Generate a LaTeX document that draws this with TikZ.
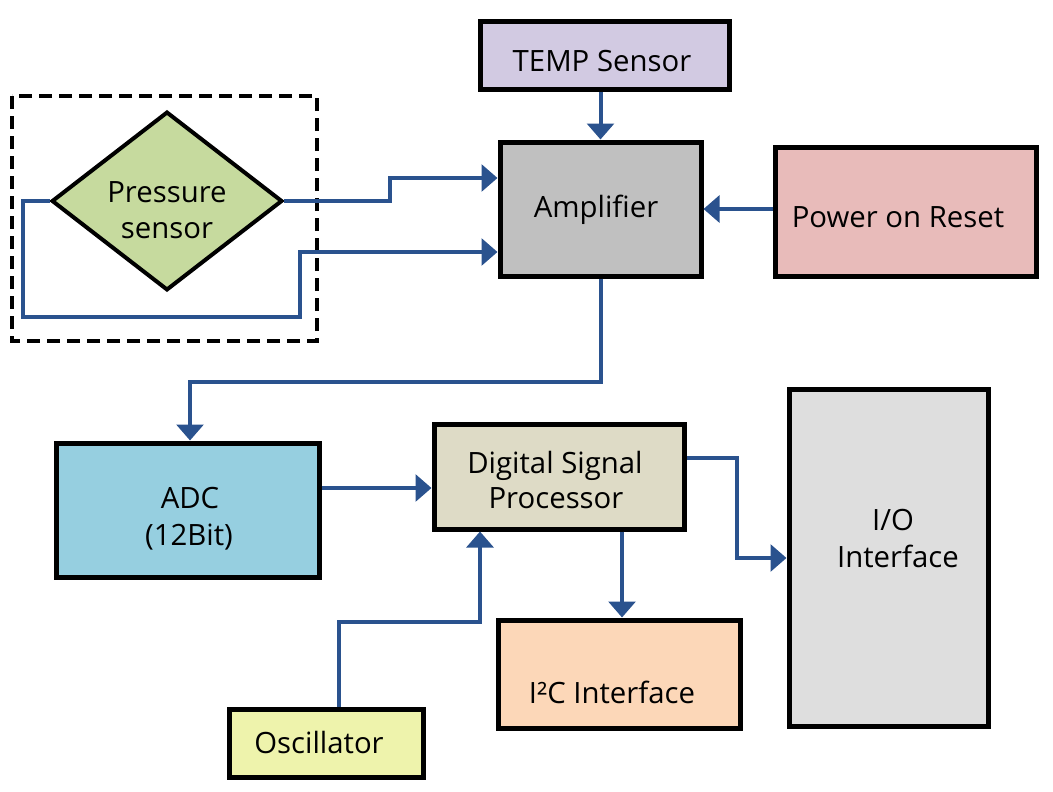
\documentclass[tikz,border=0pt]{standalone}
\usepackage{fontspec}
\setmainfont{Open Sans}
\usetikzlibrary{arrows.meta,fit,shapes.geometric}
\definecolor{cTemp}{HTML}{D2CAE2}
\definecolor{cAmp}{HTML}{C0C0C0}
\definecolor{cPor}{HTML}{E8BBBA}
\definecolor{cAdc}{HTML}{96CFE0}
\definecolor{cDsp}{HTML}{DEDBC6}
\definecolor{cIo}{HTML}{DEDEDE}
\definecolor{cIic}{HTML}{FCD7B8}
\definecolor{cOsc}{HTML}{EEF3AC}
\definecolor{cPs}{HTML}{C6DA9E}
\definecolor{cArr}{HTML}{2A528E}
\begin{document}
\begin{tikzpicture}[x=0.75pt,y=-0.75pt,
  box/.style={draw=black,line width=3.75pt,inner sep=0pt},
  lbl/.style={inner sep=0pt,anchor=base,font=\fontsize{22}{27.5}\selectfont},
  arr/.style={draw=cArr,line width=3pt,-{Triangle[length=12pt,width=20pt]}}]
\useasboundingbox (0,0) rectangle (1053,792);
\fill[white] (0,0) rectangle (1053,792);
% dashed group
\draw[line width=3pt,dash pattern=on 10pt off 5pt] (12,96) rectangle (317,341);
% boxes
\node[box,fill=cTemp,fit={(480,22) (729,90)}] (temp) {};
\node[box,fill=cAmp,fit={(500,142) (701,276)}] (amp) {};
\node[box,fill=cPor,fit={(775,147) (1036,276)}] (por) {};
\node[diamond,draw=black,line width=3pt,fill=cPs,inner sep=0pt,aspect=1.29,
  minimum width=173pt,minimum height=134pt] (ps) at (167,201) {};
\node[box,fill=cAdc,fit={(56,443) (319,577)}] (adc) {};
\node[box,fill=cDsp,fit={(434,424) (684,529)}] (dsp) {};
\node[box,fill=cIo,fit={(789,389) (988,726)}] (io) {};
\node[box,fill=cIic,fit={(498,620) (740,728)}] (iic) {};
\node[box,fill=cOsc,fit={(229,709) (423,777)}] (osc) {};
% texts
\node[lbl] (tempt) at (602,72) {TEMP Sensor};
\node[lbl] (ampt) at (596,217) {Amplifier};
\node[lbl] (port) at (898,227) {Power on Reset};
\node[lbl] (pst1) at (167,202) {Pressure};
\node[lbl] (pst2) at (167,238) {sensor};
\node[lbl] (adct1) at (190,508) {ADC};
\node[lbl] (adct2) at (189,545) {(12Bit)};
\node[lbl] (dspt1) at (555,473) {Digital Signal};
\node[lbl] (dspt2) at (556,508) {Processor};
\node[lbl] (iot1) at (893,530) {I/O};
\node[lbl] (iot2) at (898,567) {Interface};
\node[lbl] (iict) at (612,703) {I²C Interface};
\node[lbl] (osct) at (319,753) {Oscillator};
% junction coordinates
\coordinate (j1) at (390,178);
\coordinate (l1) at (23,317);
\coordinate (l2) at (300,252);
\coordinate (k) at (190,382);
\coordinate (ya) at (0,488);
\coordinate (m0) at (737,458);
\coordinate (m) at (737,558);
\coordinate (n) at (622,0);
\coordinate (o1) at (339,622);
\coordinate (o2) at (480,622);
% connectors
\draw[arr] (ps.east) -| (j1) -- (j1 -| amp.west);
\draw[arr] (ps.west) -| (l1) -| (l2) -- (l2 -| amp.west);
\draw[arr] (temp.south -| amp.north) -- (amp.north);
\draw[arr] (por.west |- amp.east) -- (amp.east);
\draw[arr] (amp.south) |- (k) -- (k |- adc.north);
\draw[arr] (adc.east |- ya) -- (dsp.west |- ya);
\draw[arr] (dsp.east |- m0) -| (m) -- (m -| io.west);
\draw[arr] (dsp.south -| n) -- (iic.north -| n);
\draw[arr] (osc.north -| o1) -- (o1) -- (o2) -- (o2 |- dsp.south);
\end{tikzpicture}
\end{document}
